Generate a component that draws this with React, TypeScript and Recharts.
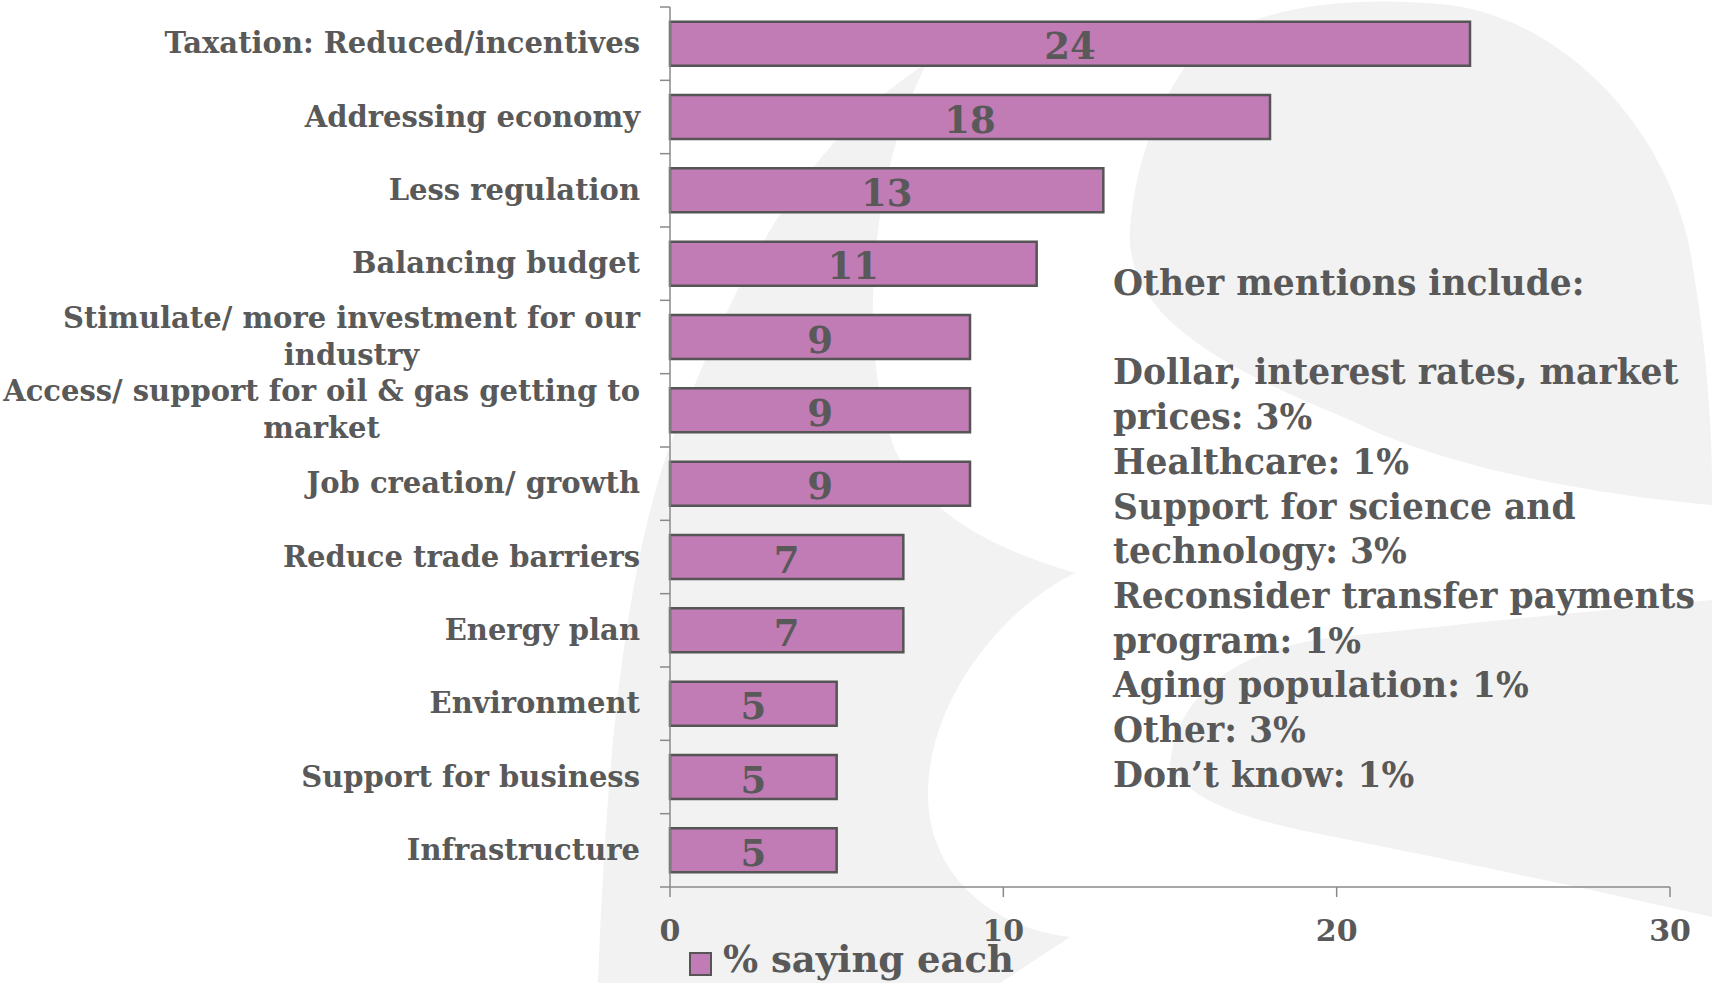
import React from 'react';
import { BarChart, Bar, XAxis, YAxis, Legend, LabelList } from 'recharts';

// ---------- data ----------
const categories = [
  'Taxation: Reduced/incentives',
  'Addressing economy',
  'Less regulation',
  'Balancing budget',
  'Stimulate/ more investment for our\nindustry',
  'Access/ support for oil & gas getting to\nmarket',
  'Job creation/ growth',
  'Reduce trade barriers',
  'Energy plan',
  'Environment',
  'Support for business',
  'Infrastructure',
];
const values = [24, 18, 13, 11, 9, 9, 9, 7, 7, 5, 5, 5];
const xTicks = [0, 10, 20, 30];
const xDomain = [0, 30];
const seriesName = '% saying each';
const otherMentionsTitle = 'Other mentions include:';
const otherMentionsLines = [
  'Dollar, interest rates, market',
  'prices: 3%',
  'Healthcare: 1%',
  'Support for science and',
  'technology: 3%',
  'Reconsider transfer payments',
  'program: 1%',
  'Aging population: 1%',
  'Other: 3%',
  'Don\u2019t know: 1%',
];

const data = categories.map((c, i) => ({ category: c, value: values[i] }));

// ---------- style ----------
const W = 1712;
const H = 983;
const MARGIN = { top: 7, right: 42, bottom: 40, left: 0 };
const Y_AXIS_W = 670;
const X_AXIS_H = 56;
const PLOT_LEFT = MARGIN.left + Y_AXIS_W;
const PLOT_TOP = MARGIN.top;
const PLOT_BOTTOM = H - MARGIN.bottom - X_AXIS_H;
const BAND = (PLOT_BOTTOM - PLOT_TOP) / categories.length;

const FONT = '"DejaVu Serif", Georgia, serif';
const TEXT = '#595959';
const AXIS = '#8a8a8a';
const BAR_FILL = '#C17BB5';
const BAR_STROKE = '#555555';
const BG = '#F2F2F2';
const CAT_SIZE = 29;

let ctx: CanvasRenderingContext2D | null = null;
function measure(text: string, size: number) {
  if (!ctx) {
    const c = document.createElement('canvas');
    ctx = c.getContext('2d');
  }
  if (!ctx) return text.length * size * 0.6;
  ctx.font = `bold ${size}px "DejaVu Serif"`;
  return ctx.measureText(text).width;
}

const CategoryTick = (props: any) => {
  const { y, payload } = props;
  const half = BAND / 2;
  const right = PLOT_LEFT - 30;
  const lines = String(payload.value).split('\n');
  const isLast = payload.index === categories.length - 1;
  let textNode;
  if (lines.length === 1) {
    textNode = (
      <text x={right} y={y + 9.6} textAnchor="end" fill={TEXT} fontFamily={FONT} fontWeight="bold" fontSize={CAT_SIZE}>
        {lines[0]}
      </text>
    );
  } else {
    const maxW = Math.max(...lines.map((l) => measure(l, CAT_SIZE)));
    const cx = right - maxW / 2;
    const lh = 37;
    const first = y - ((lines.length - 1) * lh) / 2 + 9.6;
    textNode = (
      <text textAnchor="middle" fill={TEXT} fontFamily={FONT} fontWeight="bold" fontSize={CAT_SIZE}>
        {lines.map((l, i) => (
          <tspan key={i} x={cx} y={first + i * lh}>
            {l}
          </tspan>
        ))}
      </text>
    );
  }
  return (
    <g>
      <line x1={PLOT_LEFT - 10} x2={PLOT_LEFT} y1={y - half} y2={y - half} stroke={AXIS} strokeWidth={1.5} />
      {isLast && <line x1={PLOT_LEFT - 10} x2={PLOT_LEFT} y1={y + half} y2={y + half} stroke={AXIS} strokeWidth={1.5} />}
      {textNode}
    </g>
  );
};

const ValueTick = (props: any) => {
  const { x, payload } = props;
  return (
    <text x={x} y={PLOT_BOTTOM + 54} textAnchor="middle" fill={TEXT} fontFamily={FONT} fontWeight="bold" fontSize={30}>
      {payload.value}
    </text>
  );
};

const BarValueLabel = (props: any) => {
  const vb = props.viewBox || {};
  const x = Number(props.x ?? vb.x);
  const y = Number(props.y ?? vb.y);
  const w = Number(props.width ?? vb.width);
  const h = Number(props.height ?? vb.height);
  return (
    <text x={x + w / 2} y={y + h / 2 + 15.5} textAnchor="middle" fill={TEXT} fontFamily={FONT} fontWeight="bold" fontSize={37}>
      {props.value}
    </text>
  );
};

const LegendContent = () => (
  <svg width={440} height={42} style={{ display: 'block', overflow: 'visible' }}>
    <rect x={1} y={9} width={21} height={22} fill={BAR_FILL} stroke={BAR_STROKE} strokeWidth={2} />
    <text x={34} y={28} fill={TEXT} fontFamily={FONT} fontWeight="bold" fontSize={37}>
      {seriesName}
    </text>
  </svg>
);

const Watermark = () => (
  <svg width={W} height={H} style={{ position: 'absolute', left: 0, top: 0 }}>
    <path
      fill={BG}
      d="M 598 983 C 605 800 620 560 680 420 C 730 300 790 150 927 63 C 880 150 850 330 895 450 C 930 520 1000 550 1075 573 C 1000 610 930 700 928 790 C 926 880 1000 930 1070 937 L 1000 983 Z"
    />
    <path
      fill={BG}
      d="M 1190 60 C 1240 5 1350 -5 1450 5 C 1560 20 1660 120 1688 240 C 1705 330 1712 420 1712 480 L 1712 505 C 1600 495 1450 470 1350 420 C 1230 370 1125 320 1130 230 C 1135 160 1160 100 1190 60 Z"
    />
    <path
      fill={BG}
      d="M 1170 765 C 1175 700 1230 650 1330 638 C 1450 625 1600 610 1712 600 L 1712 917 C 1550 880 1400 850 1300 830 C 1230 815 1185 795 1170 765 Z"
    />
  </svg>
);

const Annotation = () => (
  <svg width={W} height={H} style={{ position: 'absolute', left: 0, top: 0, pointerEvents: 'none' }}>
    <text fill={TEXT} fontFamily={FONT} fontWeight="bold" fontSize={34.5}>
      <tspan x={1113} y={295}>
        {otherMentionsTitle}
      </tspan>
      {otherMentionsLines.map((l, i) => (
        <tspan key={i} x={1113} y={295 + (i + 2) * 44.7}>
          {l}
        </tspan>
      ))}
    </text>
  </svg>
);

export default function App() {
  return (
    <div style={{ position: 'absolute', left: 0, top: 0, width: W, height: H, background: '#ffffff', overflow: 'hidden' }}>
      <Watermark />
      <div style={{ position: 'absolute', left: 0, top: 0 }}>
        <BarChart width={W} height={H} data={data} layout="vertical" margin={MARGIN} barCategoryGap="20%">
          <XAxis
            type="number"
            domain={xDomain}
            ticks={xTicks}
            interval={0}
            height={X_AXIS_H}
            axisLine={{ stroke: AXIS, strokeWidth: 1.5 }}
            tickLine={{ stroke: AXIS, strokeWidth: 1.5 }}
            tickSize={10}
            tick={<ValueTick />}
          />
          <YAxis
            type="category"
            dataKey="category"
            width={Y_AXIS_W}
            interval={0}
            axisLine={{ stroke: AXIS, strokeWidth: 1.5 }}
            tickLine={false}
            tickSize={10}
            tickMargin={20}
            tick={<CategoryTick />}
          />
          <Legend
            layout="horizontal"
            verticalAlign="middle"
            align="center"
            wrapperStyle={{ left: 689, top: 944, width: 440, height: 42 }}
            content={<LegendContent />}
          />
          <Bar dataKey="value" name={seriesName} fill={BAR_FILL} stroke={BAR_STROKE} strokeWidth={2.5} isAnimationActive={false}>
            <LabelList dataKey="value" content={<BarValueLabel />} />
          </Bar>
        </BarChart>
      </div>
      <Annotation />
    </div>
  );
}
